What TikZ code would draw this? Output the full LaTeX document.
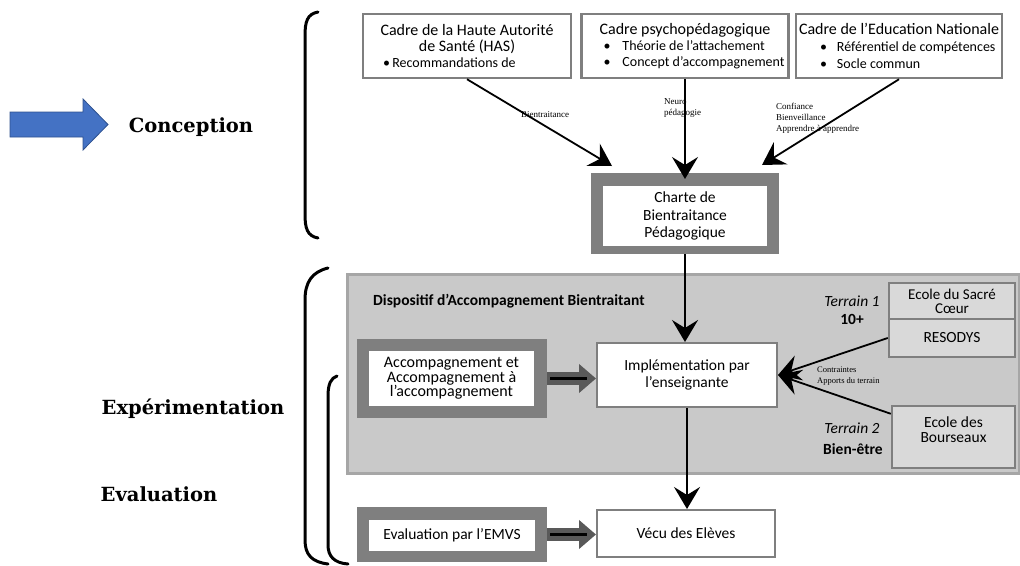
\documentclass[tikz,border=0pt]{standalone}
\usepackage{fontspec}
\setmainfont{Carlito}
\newfontfamily\headfont{DejaVu Serif}
\newfontfamily\notefont{Liberation Serif}
\usetikzlibrary{arrows.meta}

\definecolor{framegray}{HTML}{7F7F7F}
\definecolor{panelfill}{HTML}{C9C9C9}
\definecolor{panelline}{HTML}{A6A6A6}
\definecolor{terrainfill}{HTML}{D9D9D9}
\definecolor{fatgray}{HTML}{595959}
\definecolor{bluefill}{HTML}{4472C4}
\definecolor{blueline}{HTML}{2F528F}

\newcommand\tightfont[2]{\fontsize{#1}{#2}\selectfont\lineskiplimit=-50pt\relax}
\newcommand\ttl{\tightfont{16}{16}}
\newcommand\btxt{\tightfont{14}{16}}

\tikzset{
  topbox/.style={draw=framegray, line width=2.5pt, fill=white, inner sep=0pt, minimum height=64pt},
  grayframe/.style={fill=framegray, inner sep=0pt},
  innerbox/.style={fill=white, inner sep=0pt, align=center, font=\tightfont{15.5}{17}},
  whitebox/.style={draw=framegray, line width=2pt, fill=white, inner sep=0pt, align=center, font=\tightfont{15.5}{17}},
  terrainbox/.style={draw=framegray, line width=2.5pt, fill=terrainfill, inner sep=0pt, align=center, font=\tightfont{15.5}{15}},
  link/.style={line width=1.8pt, -{Stealth[length=22pt,width=26pt,inset=8pt]}},
  fatlink/.style={line width=13pt, fatgray, -{Triangle[length=17pt,width=28pt]}},
  brace/.style={line width=3pt, line cap=round},
  notelbl/.style={inner sep=0pt, anchor=west, align=left, font=\notefont\tightfont{9}{11}},
  side/.style={font=\headfont\bfseries\tightfont{19.5}{22}}
}

\begin{document}
\begin{tikzpicture}[x=1pt,y=-1pt]
\useasboundingbox (0,0) rectangle (1020,565);

% left column
\fill[bluefill, draw=blueline, line width=0.8pt] (10,112) -- (83,112) -- (83,99) -- (108,124.5) -- (83,150) -- (83,137) -- (10,137) -- cycle;
\node[side] (conc) at (191,127) {Conception};
\node[side] (expe) at (193,409) {Expérimentation};
\node[side] (eval) at (159,494) {Evaluation};

\draw[brace] (318,12) .. controls (307,14) and (305,22) .. (305,36) -- (305,214) .. controls (305,228) and (307,236) .. (318,238);
\draw[brace] (328,268) .. controls (312,272) and (305,282) .. (305,300) -- (305,540) .. controls (305,555) and (312,562) .. (328,564);
\draw[brace] (337,376) .. controls (331,378) and (328,384) .. (328,396) -- (328,545) .. controls (328,556) and (334,563) .. (348,564);

% panel
\node[draw=panelline, fill=panelfill, line width=3pt, minimum width=672pt, minimum height=199pt, inner sep=0pt] (panel) at (683,373.5) {};
\node[anchor=west, inner sep=0pt, font=\tightfont{15.5}{17}\bfseries] (dispo) at (373,301) {Dispositif d’Accompagnement Bientraitant};

% the three frames
\node[topbox, minimum width=208pt] (has) at (467,46) {\parbox{208pt}{\centering\ttl Cadre de la Haute Autorité\\de Santé (HAS)\\\btxt\makebox[208pt][l]{\hspace*{20pt}\textbullet\,Recommandations de}}};
\node[topbox, minimum width=207pt] (psy) at (685,46) {\parbox{207pt}{\centering\ttl Cadre psychopédagogique\\\btxt\makebox[207pt][l]{\hspace*{22pt}\textbullet\hspace*{12pt}Théorie de l’attachement}\\\makebox[207pt][l]{\hspace*{22pt}\textbullet\hspace*{12pt}Concept d’accompagnement}}};
\node[topbox, minimum width=206pt] (edu) at (899,46) {\parbox{206pt}{\centering\ttl Cadre de l’Education Nationale\\\tightfont{14}{17}\makebox[206pt][l]{\hspace*{24pt}\textbullet\hspace*{10pt}Référentiel de compétences}\\\makebox[206pt][l]{\hspace*{24pt}\textbullet\hspace*{10pt}Socle commun}}};

% charter
\node[grayframe, minimum width=188pt, minimum height=81pt] (charte) at (685,213.5) {};
\node[innerbox, minimum width=164pt, minimum height=60pt, font=\tightfont{15.5}{17.5}] (chartein) at (685,216) {Charte de\\Bientraitance\\Pédagogique};

\coordinate (tip1) at (612,166);
\coordinate (tip2) at (685,179);
\coordinate (tip3) at (762,165);
\draw[link] (has.south) -- (tip1);
\draw[link] (psy.south) -- (tip2);
\draw[link] (edu.south) -- (tip3);

\node[notelbl] (n1) at (521,115) {Bientraitance};
\node[notelbl] (n2) at (664,108.5) {Neuro\\pédagogie};
\node[notelbl] (n3) at (776,118.5) {Confiance\\Bienveillance\\Apprendre à apprendre};

% experimentation
\node[whitebox, minimum width=180pt, minimum height=64pt] (impl) at (687,375) {Implémentation par\\l’enseignante};
\draw[link] (charte.south) -- (charte.south |- impl.north);

\node[grayframe, minimum width=190pt, minimum height=79pt] (acco) at (452,378.5) {};
\node[innerbox, minimum width=165pt, minimum height=55pt, font=\tightfont{16}{14.5}] (accoin) at (451.5,378.5) {Accompagnement et\\Accompagnement à\\l’accompagnement};
\draw[fatlink] (acco.east) -- (acco.east -| impl.west);
\draw[line width=3pt] ([xshift=3pt]acco.east) -- ([xshift=-9pt]acco.east -| impl.west);

\node[terrainbox, minimum width=126pt, minimum height=36pt, font=\tightfont{15}{14}] (sacre) at (952,301) {Ecole du Sacré\\Cœur};
\node[terrainbox, minimum width=126pt, minimum height=38pt] (reso) at (952,338) {RESODYS};
\node[terrainbox, minimum width=123pt, minimum height=62pt] (bour) at (953.5,437) {Ecole des\\Bourseaux\\\mbox{}};

\node[inner sep=0pt, font=\tightfont{15.5}{17}\itshape] (t1) at (852,301) {Terrain 1};
\node[inner sep=0pt, font=\tightfont{15.5}{17}\bfseries] (t1b) at (852,319) {10+};
\node[inner sep=0pt, font=\tightfont{15.5}{17}\itshape] (t2) at (852,428) {Terrain 2};
\node[inner sep=0pt, font=\tightfont{15.5}{17}\bfseries] (t2b) at (853,449) {Bien-être};

\draw[link] (reso.west) -- (impl.east);
\draw[link] ([yshift=-9pt]bour.north west) -- (impl.east);
\node[notelbl, font=\notefont\tightfont{8.5}{11}] (n4) at (817,376.5) {Contraintes\\Apports du terrain};

% evaluation
\node[whitebox, minimum width=178pt, minimum height=47pt] (vecu) at (686,533.5) {Vécu des Elèves};
\draw[link] (impl.south) -- (impl.south |- vecu.north);
\node[grayframe, minimum width=190pt, minimum height=55pt] (emvs) at (452,534.5) {};
\node[innerbox, minimum width=166pt, minimum height=31pt] (emvsin) at (452,535.5) {Evaluation par l’EMVS};
\draw[fatlink] (emvs.east) -- (emvs.east -| vecu.west);
\draw[line width=3pt] ([xshift=3pt]emvs.east) -- ([xshift=-9pt]emvs.east -| vecu.west);
\end{tikzpicture}
\end{document}
